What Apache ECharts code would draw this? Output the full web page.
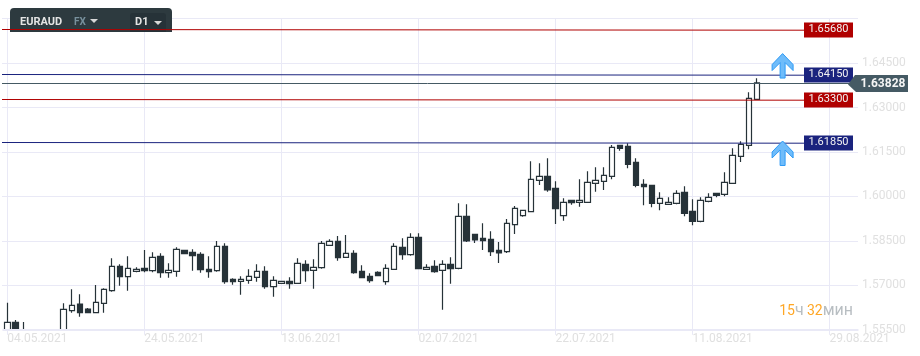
<!DOCTYPE html>
<html>
<head>
<meta charset="utf-8">
<title>EURAUD</title>
<style>
html, body { margin: 0; padding: 0; background: #fff; }
#chart { width: 920px; height: 356px; }
</style>
<script src="https://cdn.jsdelivr.net/npm/echarts@6/dist/echarts.min.js"></script>
</head>
<body>
<div id="chart"></div>
<script>
// ticks
var dateLabels = ['04.05.2021', '24.05.2021', '13.06.2021', '02.07.2021', '22.07.2021', '11.08.2021', '29.08.2021'];
var priceTicks = [1.555, 1.57, 1.585, 1.6, 1.615, 1.63, 1.645, 1.66];

// candles
var opens = [1.5500,1.55753,1.5530,1.5520,1.5535,1.5530,1.5520,1.5530,1.56144,1.56370,1.56202,1.56077,1.56394,1.56819,1.57642,1.57292,1.57474,1.57575,1.57494,1.57980,
  1.57426,1.57474,1.58182,1.58115,1.58047,1.57541,1.57494,1.58317,1.57204,1.57136,1.57170,1.57271,1.57474,1.56954,1.57069,1.57136,1.57069,1.57710,1.57507,1.57595,
  1.58351,1.58486,1.57946,1.58081,1.57474,1.57305,1.57440,1.57123,1.57541,1.58283,1.58034,1.58621,1.57541,1.57642,1.57507,1.57710,1.57575,1.59329,1.58722,1.58587,
  1.58553,1.58182,1.58135,1.59046,1.59350,1.59484,1.60544,1.60679,1.60274,1.59350,1.59869,1.59802,1.59802,1.60443,1.60510,1.60679,1.61725,1.61691,1.61151,1.60409,
  1.60375,1.59768,1.59734,1.59768,1.60139,1.59498,1.59161,1.59835,1.60105,1.60072,1.60443,1.61354,1.61725,1.63277];
var closes = [1.55753,1.5510,1.5520,1.5535,1.5530,1.5535,1.5535,1.56192,1.56327,1.56077,1.56077,1.56428,1.56866,1.57642,1.57292,1.57575,1.57541,1.57494,1.57946,1.57426,
  1.57507,1.58216,1.58067,1.58000,1.57528,1.57460,1.58317,1.57123,1.57123,1.57204,1.57305,1.57474,1.56954,1.57170,1.57136,1.57055,1.57744,1.57494,1.57609,1.58418,
  1.58486,1.57932,1.58081,1.57426,1.57258,1.57157,1.57325,1.57575,1.58317,1.58034,1.58621,1.57561,1.57609,1.57460,1.57710,1.57561,1.59329,1.58496,1.58530,1.58506,
  1.58135,1.58091,1.59093,1.59599,1.59532,1.60578,1.60679,1.60217,1.59586,1.59802,1.59788,1.59869,1.60476,1.60544,1.60713,1.61657,1.61623,1.61084,1.60375,1.60328,
  1.59768,1.59937,1.59802,1.60105,1.59430,1.59161,1.59869,1.59970,1.60038,1.60476,1.61387,1.61758,1.63310,1.63828];
var lows = [1.5490,1.5500,1.5510,1.5510,1.5520,1.5520,1.5510,1.5525,1.56077,1.55942,1.56077,1.56077,1.56077,1.56785,1.56988,1.56819,1.57440,1.57440,1.57440,1.57258,
  1.57258,1.57292,1.58067,1.57494,1.57426,1.57258,1.57460,1.57055,1.57022,1.56684,1.57055,1.57123,1.56887,1.56617,1.57069,1.56887,1.57069,1.57123,1.56887,1.57561,
  1.58351,1.57831,1.57946,1.57393,1.57258,1.57089,1.57325,1.57022,1.57541,1.57865,1.58000,1.57561,1.57541,1.57426,1.56178,1.57055,1.57541,1.58462,1.58428,1.58192,
  1.57990,1.57754,1.58091,1.58732,1.59316,1.59484,1.60385,1.60159,1.59069,1.59181,1.59721,1.59653,1.59802,1.60159,1.60217,1.60578,1.61542,1.60949,1.60308,1.59700,
  1.59633,1.59532,1.59734,1.59734,1.59329,1.59026,1.59127,1.59802,1.59970,1.60004,1.60443,1.61161,1.61590,1.63277];
var highs = [1.56414,1.55831,1.55763,1.55527,1.5545,1.5545,1.5540,1.56394,1.56866,1.56698,1.56235,1.57011,1.56900,1.57912,1.57710,1.57980,1.57609,1.58192,1.58115,1.58081,
  1.57744,1.58283,1.58182,1.58216,1.58115,1.57980,1.58496,1.58418,1.57238,1.57305,1.57541,1.57710,1.57642,1.57305,1.57136,1.57271,1.57912,1.57845,1.57879,1.58496,
  1.58553,1.58665,1.58698,1.58182,1.57676,1.57406,1.57474,1.57710,1.58418,1.58587,1.58756,1.58756,1.57710,1.57845,1.57845,1.57946,1.59768,1.59734,1.58722,1.59093,
  1.58823,1.58462,1.59238,1.59677,1.59532,1.61185,1.61117,1.61286,1.60510,1.59937,1.59869,1.60578,1.60848,1.60982,1.60982,1.61735,1.61725,1.61792,1.61286,1.60578,
  1.60375,1.60139,1.59970,1.60206,1.60341,1.59903,1.59970,1.60105,1.60105,1.60814,1.61623,1.61860,1.63513,1.63985];

// price levels on the right
var levelValues = [1.6568, 1.6415, 1.633, 1.6185];
var levelLabels = ['1.65680', '1.64150', '1.63300', '1.61850'];
var levelColors = ['#b00000', '#1a237e', '#b00000', '#1a237e'];
var lastPrice = 1.63828;
var arrowIndex = [96, 96];
var arrowPrices = [1.6482, 1.6187];

var barSpan = 106;
var tickStep = 17;
var categories = [];
for (var i = 0; i < barSpan; i++) {
	categories.push(i % tickStep == 0 ? dateLabels[i / tickStep] : String(i));
}
var candles = [];
for (var j = 0; j < opens.length; j++) {
	candles.push([opens[j], closes[j], lows[j], highs[j]]);
}

var gridTop = 18.6, gridHeight = 311.2;
var font = 'Roboto, sans-serif';
var gridColor = '#e9e9f6';

// labels at the end of the level lines, the lines lean a little as in the original
function renderLevel(params, api) {
	var idx = params.dataIndex;
	var y = Math.floor(api.coord([0, api.value(0)])[1] + 1) + 0.5;
	return {
		type: 'group',
		children: [
			{ type: 'line', shape: { x1: 2, y1: y, x2: 804, y2: y + 0.7 }, style: { stroke: levelColors[idx], lineWidth: 1 } },
			{ type: 'rect', shape: { x: 804, y: y - 7, width: 49, height: 15 }, style: { fill: levelColors[idx] } },
			{ type: 'text', x: 828.5, y: y, style: { text: levelLabels[idx], fill: '#f2f2f2', font: '11px ' + font, align: 'center', verticalAlign: 'middle' } }
		]
	};
}

function renderLast(params, api) {
	var y = Math.round(api.coord([0, api.value(0)])[1]) + 0.5;
	return {
		type: 'group',
		children: [
			{ type: 'line', shape: { x1: 2, y1: y, x2: 853, y2: y }, style: { stroke: '#455a64', lineWidth: 1 } },
			{ type: 'polygon', shape: { points: [[848, y + 1], [855, y - 8.5], [908, y - 8.5], [908, y + 8.5], [856, y + 8.5]] }, style: { fill: '#455a64' } },
			{ type: 'text', x: 883, y: y + 0.5, style: { text: api.value(0).toFixed(5), fill: '#f5f5f5', font: 'bold 12px ' + font, align: 'center', verticalAlign: 'middle' } }
		]
	};
}

function renderArrow(params, api) {
	var p = api.coord([api.value(0), api.value(1)]);
	var x = p[0] + 1.5, y = p[1];
	return {
		type: 'polygon',
		shape: { points: [[x, y], [x + 10.5, y + 11], [x + 10.5, y + 17], [x + 2.5, y + 9], [x + 2.5, y + 24.5], [x - 2.5, y + 24.5], [x - 2.5, y + 9], [x - 10.5, y + 17], [x - 10.5, y + 11]] },
		style: { fill: '#6fbcfa', stroke: '#2f9bf5', lineWidth: 1 }
	};
}

var myChart = echarts.init(document.getElementById('chart'));
var option = {
	animation: false,
	backgroundColor: '#fff',
	textStyle: { fontFamily: font },
	grid: [
		{ left: 2, width: 856, top: gridTop, height: gridHeight },
		{ left: 3.27, width: 854.4, top: gridTop, height: gridHeight }
	],
	xAxis: [
		{ gridIndex: 0, type: 'value', min: 0, max: 1, show: false },
		{
			// vertical grid, behind the candles
			gridIndex: 1,
			type: 'category',
			position: 'bottom',
			data: categories,
			axisLine: { show: false },
			axisTick: { show: false },
			axisLabel: { show: false },
			splitLine: { show: true, alignWithLabel: true, interval: tickStep - 1, lineStyle: { color: gridColor, width: 1 } }
		},
		{
			// axis line, ticks and dates, above the candles
			gridIndex: 1,
			type: 'category',
			position: 'bottom',
			data: categories,
			z: 3,
			axisLine: { show: true, lineStyle: { color: gridColor, width: 2 } },
			axisTick: { show: true, alignWithLabel: true, interval: tickStep - 1, length: 5, lineStyle: { color: gridColor } },
			splitLine: { show: false },
			axisLabel: { interval: tickStep - 1, align: 'left', color: '#e0e0e0', fontSize: 12, fontFamily: font, margin: 3, hideOverlap: false }
		}
	],
	yAxis: [
		{
			gridIndex: 0,
			type: 'value',
			position: 'right',
			min: priceTicks[0],
			max: priceTicks[priceTicks.length - 1],
			interval: 0.015,
			axisLine: { show: false },
			axisTick: { show: false },
			splitLine: { show: true, lineStyle: { color: gridColor, width: 1 } },
			axisLabel: {
				color: '#e0e0e0',
				fontSize: 12,
				fontFamily: font,
				margin: 4,
				showMaxLabel: false,
				formatter: function (v) { return v.toFixed(5); }
			}
		},
		{ gridIndex: 1, type: 'value', min: priceTicks[0], max: priceTicks[priceTicks.length - 1], show: false }
	],
	series: [
		{
			type: 'candlestick',
			xAxisIndex: 1,
			yAxisIndex: 1,
			data: candles,
			barWidth: 6,
			z: 1,
			itemStyle: { color: '#ffffff', color0: '#263238', borderColor: '#263238', borderColor0: '#263238', borderWidth: 1.2 }
		},
		{
			type: 'custom',
			xAxisIndex: 0,
			yAxisIndex: 0,
			clip: false,
			z: 4,
			data: levelValues,
			encode: { y: 0 },
			renderItem: renderLevel
		},
		{
			type: 'custom',
			xAxisIndex: 0,
			yAxisIndex: 0,
			clip: false,
			z: 4,
			data: [lastPrice],
			encode: { y: 0 },
			renderItem: renderLast
		},
		{
			type: 'custom',
			xAxisIndex: 1,
			yAxisIndex: 1,
			clip: false,
			z: 5,
			data: arrowIndex.map(function (v, k) { return [v, arrowPrices[k]]; }),
			renderItem: renderArrow
		}
	],
	graphic: [
		// candles that run below the axis are cut off in the original
		{ type: 'rect', left: 0, top: 330, shape: { width: 75, height: 20 }, style: { fill: '#fff' }, z: 2 },
		{ type: 'rect', left: 10, top: 8, shape: { width: 162, height: 24, r: [4, 4, 0, 0] }, style: { fill: '#2d3a3f' }, z: 3 },
		{ type: 'rect', left: 130, top: 13, shape: { width: 36, height: 19, r: [3, 3, 0, 0] }, style: { fill: '#263238' }, z: 3 },
		{ type: 'text', left: 20, top: 17, style: { text: 'EURAUD', fill: '#e4e4e4', font: 'bold 11px ' + font }, z: 5 },
		{ type: 'text', left: 74, top: 17, style: { text: 'FX', fill: '#78909c', font: 'bold 10px ' + font }, z: 5 },
		{ type: 'polygon', shape: { points: [[90, 19], [98, 19], [94, 23]] }, style: { fill: '#d8d8d8' }, z: 5 },
		{ type: 'text', left: 135, top: 17, style: { text: 'D1', fill: '#e4e4e4', font: 'bold 11px ' + font }, z: 5 },
		{ type: 'polygon', shape: { points: [[154, 21], [162, 21], [158, 25]] }, style: { fill: '#d8d8d8' }, z: 5 },
		{
			type: 'text', right: 67, top: 303,
			style: {
				text: '{o|15}{g|ч} {o|32}{g|мин}',
				rich: {
					o: { fill: '#ffa726', font: '14px ' + font },
					g: { fill: '#b8bec2', font: '16px ' + font }
				}
			},
			z: 6
		}
	]
};
myChart.setOption(option);
</script>
</body>
</html>
